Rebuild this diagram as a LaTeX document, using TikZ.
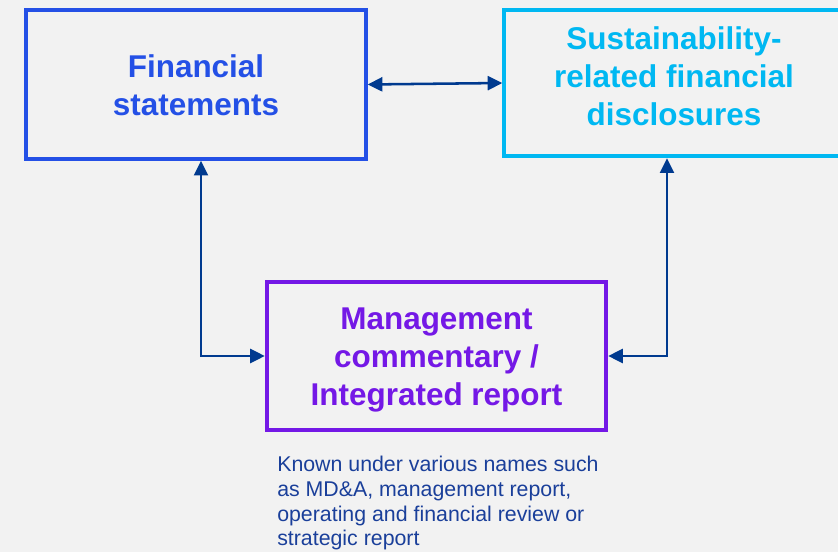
\documentclass[tikz,border=0pt]{standalone}
\usepackage{fontspec}
\setmainfont{Liberation Sans}
\usetikzlibrary{arrows.meta}
\definecolor{bg}{HTML}{F2F2F2}
\definecolor{fsblue}{HTML}{2450E6}
\definecolor{sucyan}{HTML}{00B8F2}
\definecolor{mcpurple}{HTML}{7418E6}
\definecolor{navy}{HTML}{003A8F}
\definecolor{notecol}{HTML}{1A3F9A}
\tikzset{
  box/.style={draw, line width=3pt, minimum width=254.5pt, minimum height=111.5pt, inner sep=0pt},
  boxtext/.style={align=center, inner sep=0pt, font=\bfseries\fontsize{23.6}{28.5}\selectfont},
  link/.style={draw=navy, line width=1.9pt, {Triangle[length=11pt,width=10.5pt]}-{Triangle[length=11pt,width=10.5pt]}},
}
\begin{document}
\begin{tikzpicture}[x=0.75pt,y=-0.75pt]
\useasboundingbox (0,0) rectangle (838,552);
\fill[bg] (0,0) rectangle (838,552);
\clip (0,0) rectangle (838,552);
\node[box, draw=fsblue] (fs) at (196,84.5) {};
\node[boxtext, text=fsblue] (fst) at (196,85) {Financial\\statements};
\node[box, draw=sucyan, minimum height=110pt] (sr) at (674,83) {};
\node[boxtext, text=sucyan] (srt) at (674,76) {Sustainability-\\related financial\\disclosures};
\node[box, draw=mcpurple] (mc) at (436.5,356) {};
\node[boxtext, text=mcpurple] (mct) at (436.5,360) {Management\\commentary /\\Integrated report};
\node[anchor=north west, inner sep=0pt, align=left, text=notecol,
  font=\fontsize{16}{18.5}\selectfont] (note) at (277,456)
  {Known under various names such\\as MD\&A, management report,\\operating and financial review or\\strategic report};
\draw[link] (fs.east) -- (sr.west);
\draw[link] (fs.south -| 201,0) |- (mc.west);
\draw[link] (sr.south -| 667,0) |- (mc.east);
\end{tikzpicture}
\end{document}
